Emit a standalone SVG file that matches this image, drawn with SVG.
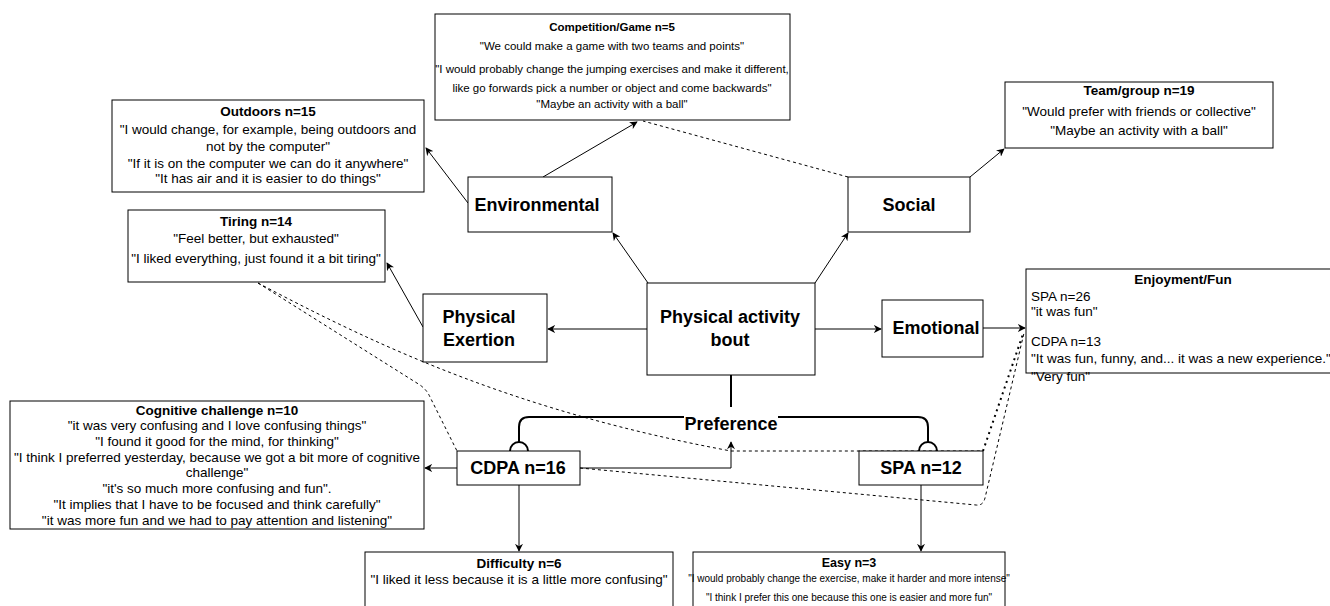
<svg xmlns="http://www.w3.org/2000/svg" width="1330" height="606" viewBox="0 0 1330 606">
<style>
.box{fill:#fff;stroke:#000;stroke-width:1}
.t{font-family:"Liberation Sans",Arial,sans-serif;font-size:13.5px;fill:#000}
.s{font-size:11.5px}
.e{font-size:10px}
.tc{text-anchor:middle}
.b{font-weight:bold}
.big{font-family:"Liberation Sans",Arial,sans-serif;font-size:18px;font-weight:bold;fill:#000;text-anchor:middle}
.ln{fill:none;stroke:#000;stroke-width:1}
.thick{fill:none;stroke:#000;stroke-width:2}
.dash{fill:none;stroke:#000;stroke-width:1;stroke-dasharray:3 3}
.dot{fill:none;stroke:#000;stroke-width:2;stroke-dasharray:2 4}
</style>
<defs>
<marker id="arr" viewBox="0 0 10 10" refX="9" refY="5" markerWidth="8" markerHeight="8" orient="auto" markerUnits="userSpaceOnUse">
<path d="M0,0 L10,5 L0,10 L3,5 z" fill="#000"/>
</marker>
</defs>
<rect width="1330" height="606" fill="#fff"/>

<g id="connectors">
<path class="ln" d="M648,283 L613,233" marker-end="url(#arr)"/>
<path class="ln" d="M815,283 L848,233" marker-end="url(#arr)"/>
<path class="ln" d="M647,329 L548,329" marker-end="url(#arr)"/>
<path class="ln" d="M815,329 L881,329" marker-end="url(#arr)"/>
<path class="ln" d="M983,328 L1025,328" marker-end="url(#arr)"/>
<path class="ln" d="M468,203 L426,148" marker-end="url(#arr)"/>
<path class="ln" d="M543,177 L637,122" marker-end="url(#arr)"/>
<path class="dash" d="M848,177 L643,121"/>
<path class="ln" d="M970,177 L1004,149" marker-end="url(#arr)"/>
<path class="ln" d="M423,327 L387,263" marker-end="url(#arr)"/>
<path class="thick" d="M731,375 L731,407"/>
<path class="thick" d="M684,417 L529,417 Q519,417 519,427 L519,443"/>
<path class="thick" d="M510,451 A9,9 0 0 1 528,451"/>
<path class="thick" d="M778,417 L918,417 Q928,417 928,427 L928,443"/>
<path class="thick" d="M919,451 A9,9 0 0 1 937,451"/>
<path class="ln" d="M457,468 L425,468" marker-end="url(#arr)"/>
<path class="ln" d="M580,468 L731,468 L731,442" marker-end="url(#arr)"/>
<path class="ln" d="M519,485 L519,551" marker-end="url(#arr)"/>
<path class="ln" d="M921,485 L921,551" marker-end="url(#arr)"/>
<path class="dash" d="M580,468 L976,505 Q983,506 985,498 L1024,333"/>
<path class="dash" d="M258,283 C385,350 520,412 731,451 L983,451"/>
<path class="dot" d="M983,451 L1023,334"/>
<path class="dash" d="M258,283 L420,385 Q427,390 430,397 L457,451"/>
</g>

<g id="competition">
<rect class="box" x="435" y="14" width="355" height="106"/>
<text class="t s tc b" x="612" y="31">Competition/Game n=5</text>
<text class="t s tc" x="612" y="50">"We could make a game with two teams and points"</text>
<text class="t s tc" x="612" y="73">"I would probably change the jumping exercises and make it different,</text>
<text class="t s tc" x="612" y="92">like go forwards pick a number or object and come backwards"</text>
<text class="t s tc" x="612" y="108">"Maybe an activity with a ball"</text>
</g>

<g id="outdoors">
<rect class="box" x="112" y="100" width="312" height="92"/>
<text class="t tc b" x="268" y="116">Outdoors n=15</text>
<text class="t tc" x="268" y="134">"I would change, for example, being outdoors and</text>
<text class="t tc" x="268" y="151">not by the computer"</text>
<text class="t tc" x="268" y="168">"If it is on the computer we can do it anywhere"</text>
<text class="t tc" x="268" y="183">"It has air and it is easier to do things"</text>
</g>

<g id="team">
<rect class="box" x="1005" y="82" width="268" height="66"/>
<text class="t tc b" x="1139" y="95">Team/group n=19</text>
<text class="t tc" x="1139" y="116">"Would prefer with friends or collective"</text>
<text class="t tc" x="1139" y="135">"Maybe an activity with a ball"</text>
</g>

<g id="tiring">
<rect class="box" x="128" y="210" width="257" height="72"/>
<text class="t tc b" x="256" y="226">Tiring n=14</text>
<text class="t tc" x="256" y="243">"Feel better, but exhausted"</text>
<text class="t tc" x="256" y="263">"I liked everything, just found it a bit tiring"</text>
</g>

<g id="enjoyment">
<rect class="box" x="1026" y="269" width="314" height="104"/>
<text class="t tc b" x="1183" y="284">Enjoyment/Fun</text>
<text class="t" x="1031" y="301">SPA n=26</text>
<text class="t" x="1031" y="316">"it was fun"</text>
<text class="t" x="1031" y="346">CDPA n=13</text>
<text class="t" x="1031" y="363">"It was fun, funny, and... it was a new experience."</text>
<text class="t" x="1031" y="381">"Very fun"</text>
</g>

<g id="cognitive">
<rect class="box" x="10" y="401" width="414" height="128"/>
<text class="t tc b" x="217" y="415">Cognitive challenge n=10</text>
<text class="t tc" x="217" y="430">"it was very confusing and I love confusing things"</text>
<text class="t tc" x="217" y="446">"I found it good for the mind, for thinking"</text>
<text class="t tc" x="217" y="462">"I think I preferred yesterday, because we got a bit more of cognitive</text>
<text class="t tc" x="217" y="477">challenge"</text>
<text class="t tc" x="217" y="493">"it's so much more confusing and fun".</text>
<text class="t tc" x="217" y="509">"It implies that I have to be focused and think carefully"</text>
<text class="t tc" x="217" y="525">"it was more fun and we had to pay attention and listening"</text>
</g>

<g id="difficulty">
<rect class="box" x="365" y="552" width="308" height="60"/>
<text class="t tc b" x="519" y="568">Difficulty n=6</text>
<text class="t tc" x="519" y="584">"I liked it less because it is a little more confusing"</text>
</g>

<g id="easy">
<rect class="box" x="693" y="552" width="312" height="60"/>
<text class="t tc b" x="849" y="567" style="font-size:12.5px">Easy n=3</text>
<text class="t e tc" x="849" y="582">"I would probably change the exercise, make it harder and more intense"</text>
<text class="t e tc" x="849" y="601">"I think I prefer this one because this one is easier and more fun"</text>
</g>

<g id="environmental">
<rect class="box" x="468" y="177" width="144" height="55"/>
<text class="big" x="537" y="211">Environmental</text>
</g>

<g id="social">
<rect class="box" x="848" y="177" width="122" height="55"/>
<text class="big" x="909" y="211">Social</text>
</g>

<g id="pab">
<rect class="box" x="647" y="283" width="168" height="92"/>
<text class="big" x="730" y="323">Physical activity</text>
<text class="big" x="730" y="346">bout</text>
</g>

<g id="exertion">
<rect class="box" x="423" y="294" width="124" height="68"/>
<text class="big" x="479" y="323">Physical</text>
<text class="big" x="479" y="346">Exertion</text>
</g>

<g id="emotional">
<rect class="box" x="882" y="300" width="101" height="57"/>
<text class="big" x="936" y="334">Emotional</text>
</g>

<g id="preference">
<text class="big" x="731" y="430">Preference</text>
</g>

<g id="cdpa">
<rect class="box" x="457" y="451" width="123" height="34"/>
<text class="big" x="518" y="474">CDPA n=16</text>
</g>

<g id="spa">
<rect class="box" x="859" y="451" width="124" height="34"/>
<text class="big" x="921" y="474">SPA n=12</text>
</g>
</svg>
